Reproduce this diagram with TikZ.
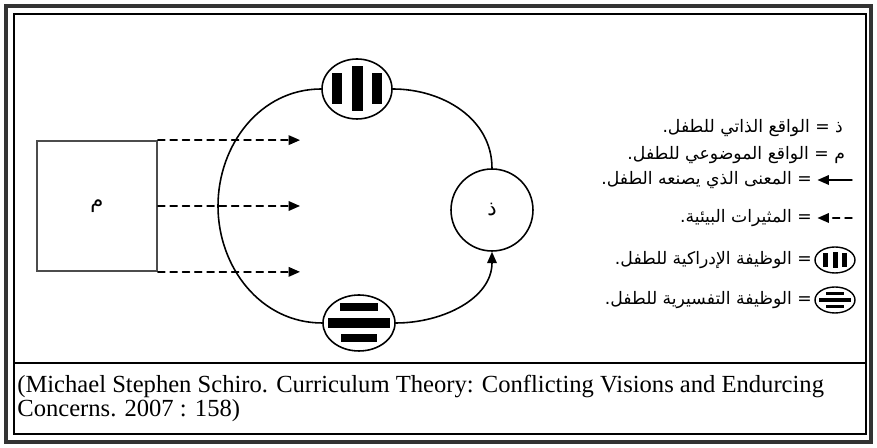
\documentclass[tikz,border=0pt]{standalone}
\usepackage{fontspec}
\setmainfont{Liberation Serif}
\newfontfamily\arabicfont[Script=Arabic]{DejaVu Sans}
\TeXXeTstate=1
\usetikzlibrary{arrows.meta,shapes.geometric}

\begin{document}
\begin{tikzpicture}[x=0.02cm,y=-0.02cm,line cap=round,
  >={Triangle[length=6.5pt,width=5.5pt]},
  func/.style={draw,ellipse,line width=0.9pt,inner sep=0pt},
  stim/.style={->,dash pattern=on 4pt off 3pt,line width=0.8pt},
  legend/.style={font=\arabicfont\fontsize{9.8}{11}\selectfont,inner sep=1pt,anchor=east}]
\useasboundingbox (0,0) rectangle (877,448);
% frame
\draw[line width=2pt,black!80] (6,6) rectangle (871,442);
\draw[line width=0.7pt] (14,14) rectangle (866,434);
\draw[line width=1pt] (14,363) -- (866,363);

% objective reality and the child
\node[draw,line width=1pt,draw=black!70,minimum width=2.4cm,minimum height=2.6cm] (mbox) at (97,206)
  {\arabicfont\fontsize{12}{14}\selectfont م};
\node[func,minimum width=1.4cm,minimum height=1.2cm] (perc) at (357,89) {};
\node[func,minimum width=1.44cm,minimum height=1.12cm] (interp) at (359,323) {};
\node[draw,circle,line width=0.9pt,minimum size=1.64cm,inner sep=0pt] (dhal) at (492,210)
  {\arabicfont\fontsize{12}{14}\selectfont ذ};
\coordinate (lft) at (218,206);
\coordinate (tip) at (300,206);

% ring
\draw[line width=0.9pt] (perc) to[out=0,in=90] (dhal);
\draw[line width=0.9pt,->] (interp) to[out=0,in=-90] (dhal);
\draw[line width=0.9pt] (perc) to[out=180,in=90] (lft) to[out=-90,in=180] (interp);

% bars
\begin{scope}[shift={(perc.center)}]
\fill (-25,-16) rectangle (-15,15);
\fill (-5,-23) rectangle (6,22);
\fill (15,-16) rectangle (25,15);
\end{scope}
\begin{scope}[shift={(interp.center)}]
\fill (-19,-20) rectangle (19,-12);
\fill (-31,-5) rectangle (31,5);
\fill (-18,11) rectangle (18,19);
\end{scope}

% stimuli
\draw[stim] (mbox.north east) -- (mbox.north east -| tip);
\draw[stim] (mbox.east) -- (tip);
\draw[stim] (mbox.south east) -- (mbox.south east -| tip);

% legend
\node[legend] (l1) at (845,128) {\arabicfont\beginR ذ = الواقع الذاتي للطفل.\endR};
\node[legend] (l2) at (847,155) {\arabicfont\beginR م = الواقع الموضوعي للطفل.\endR};
\node[legend] (l3) at (814,180) {\arabicfont\beginR = المعنى الذي يصنعه الطفل.\endR};
\node[legend] (l4) at (814,218) {\arabicfont\beginR = المثيرات البيئية.\endR};
\node[legend] (l5) at (814,260) {\arabicfont\beginR = الوظيفة الإدراكية للطفل.\endR};
\node[legend] (l6) at (814,300) {\arabicfont\beginR = الوظيفة التفسيرية للطفل.\endR};
\coordinate (s3) at (852,180);
\coordinate (s4) at (852,218);
\draw[->,line width=0.8pt,shorten >=2pt] (s3) -- (l3);
\draw[stim,shorten >=2pt] (s4) -- (l4);
\node[func,line width=0.8pt,minimum width=0.8cm,minimum height=0.52cm] (k5) at (835,260) {};
\node[func,line width=0.8pt,minimum width=0.8cm,minimum height=0.52cm] (k6) at (835,300) {};
\begin{scope}[shift={(k5.center)}]
\fill (-12,-7) rectangle (-7,7);
\fill (-2.5,-8) rectangle (2.5,8);
\fill (7,-7) rectangle (12,7);
\end{scope}
\begin{scope}[shift={(k6.center)}]
\fill (-9,-8) rectangle (9,-5);
\fill (-16,-2) rectangle (16,2);
\fill (-9,5) rectangle (9,8);
\end{scope}

% source
\node[anchor=north west,align=left,inner sep=0pt,font=\fontsize{14}{13.8}\selectfont] (src) at (17,375)
  {(Michael Stephen Schiro. Curriculum Theory: Conflicting Visions and Endurcing\\Concerns. 2007 : 158)};
\end{tikzpicture}
\end{document}
